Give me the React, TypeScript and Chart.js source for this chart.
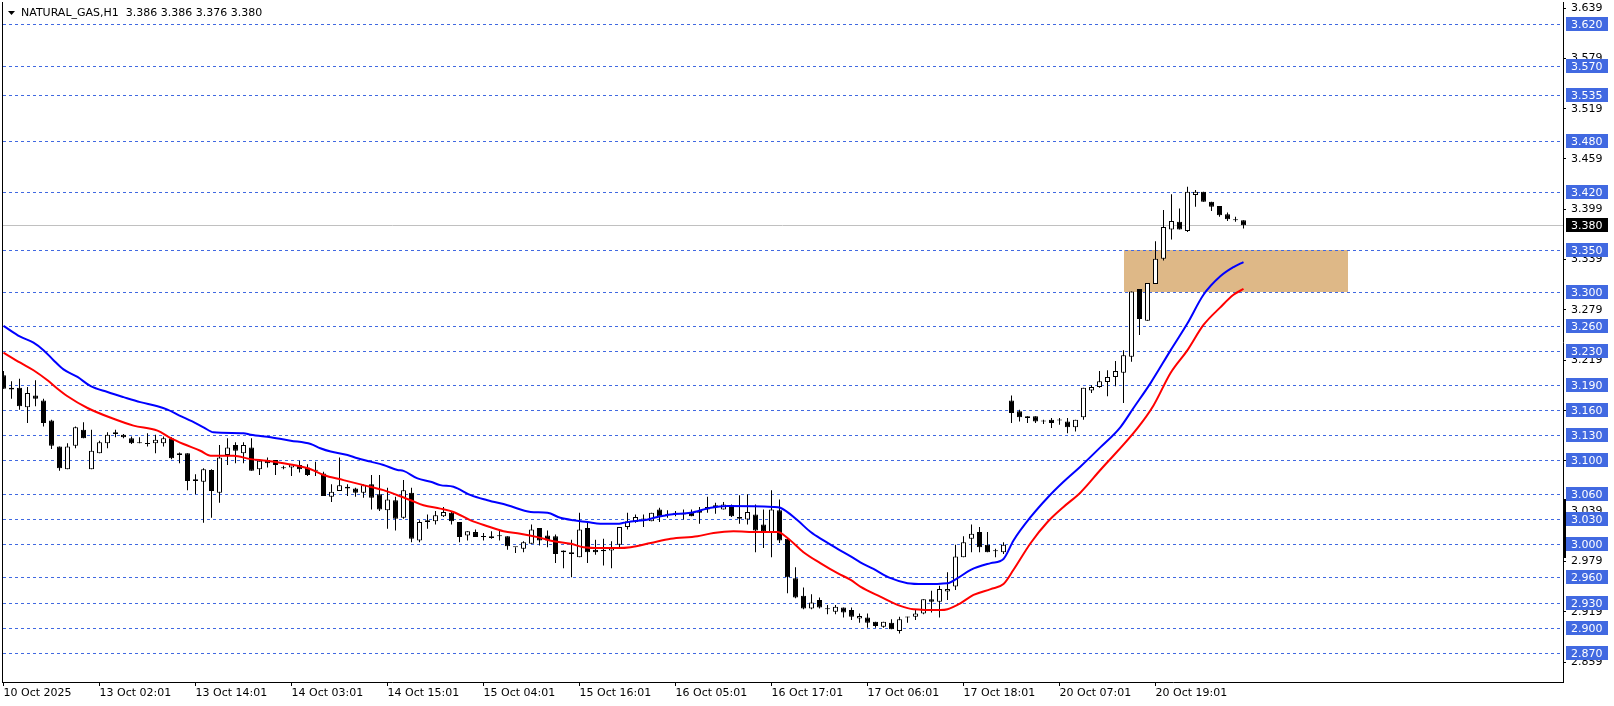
import React, { useEffect, useRef } from "react";
import { Chart, registerables } from "chart.js";

Chart.register(...registerables);

// ---- Candles (H1 bars, index 0 = left-most bar) ----
const opens = [
  3.201, 3.186, 3.186, 3.163, 3.177, 3.171, 3.147, 3.116, 3.089, 3.117,
  3.136, 3.089, 3.108, 3.120, 3.133, 3.130, 3.126, 3.121, 3.120, 3.120,
  3.120, 3.126, 3.106, 3.108, 3.077, 3.074, 3.088, 3.061, 3.106, 3.118,
  3.108, 3.115, 3.089, 3.100, 3.100, 3.091, 3.091, 3.094, 3.091, 3.087,
  3.084, 3.056, 3.063, 3.068, 3.066, 3.061, 3.071, 3.059, 3.040, 3.052,
  3.031, 3.061, 3.004, 3.028, 3.027, 3.033, 3.037, 3.026, 3.010, 3.014,
  3.008, 3.009, 3.009, 3.009, 2.996, 2.994, 3.000, 3.019, 3.010, 3.009,
  2.992, 2.990, 2.984, 3.019, 2.993, 2.991, 2.992, 2.999, 3.020, 3.026,
  3.029, 3.027, 3.041, 3.034, 3.036, 3.035, 3.037, 3.039, 3.044, 3.046,
  3.041, 3.046, 3.032, 3.029, 3.035, 3.023, 3.014, 3.040, 3.006, 2.959,
  2.938, 2.923, 2.933, 2.922, 2.919, 2.924, 2.921, 2.911, 2.912, 2.907,
  2.901, 2.906, 2.896, 2.912, 2.913, 2.917, 2.934, 2.931, 2.943, 2.949,
  2.984, 3.006, 3.014, 2.999, 2.991, 2.990, 3.171, 3.158, 3.152, 3.152,
  3.146, 3.148, 3.148, 3.146, 3.139, 3.151, 3.183, 3.187, 3.193, 3.199,
  3.204, 3.223, 3.304, 3.266, 3.310, 3.340, 3.375, 3.384, 3.373, 3.416,
  3.420, 3.408, 3.403, 3.393, 3.387, 3.386,
];
const highs = [
  3.206, 3.194, 3.197, 3.187, 3.195, 3.173, 3.148, 3.116, 3.120, 3.140,
  3.145, 3.136, 3.123, 3.133, 3.136, 3.131, 3.128, 3.127, 3.132, 3.130,
  3.128, 3.127, 3.109, 3.108, 3.083, 3.090, 3.089, 3.118, 3.126, 3.121,
  3.121, 3.126, 3.099, 3.103, 3.100, 3.093, 3.095, 3.099, 3.095, 3.098,
  3.086, 3.071, 3.103, 3.071, 3.067, 3.071, 3.082, 3.082, 3.067, 3.056,
  3.076, 3.067, 3.028, 3.035, 3.039, 3.044, 3.038, 3.026, 3.015, 3.017,
  3.013, 3.015, 3.016, 3.009, 2.996, 3.003, 3.023, 3.019, 3.016, 3.011,
  2.992, 3.005, 3.037, 3.025, 3.005, 3.006, 3.003, 3.020, 3.037, 3.035,
  3.035, 3.037, 3.043, 3.040, 3.039, 3.041, 3.041, 3.044, 3.056, 3.049,
  3.050, 3.047, 3.058, 3.059, 3.047, 3.041, 3.064, 3.053, 3.006, 2.972,
  2.948, 2.940, 2.936, 2.927, 2.927, 2.924, 2.924, 2.917, 2.917, 2.907,
  2.907, 2.910, 2.913, 2.913, 2.922, 2.934, 2.944, 2.950, 2.966, 2.999,
  3.009, 3.023, 3.020, 3.014, 2.994, 3.002, 3.177, 3.160, 3.152, 3.152,
  3.148, 3.150, 3.150, 3.150, 3.148, 3.186, 3.189, 3.206, 3.207, 3.218,
  3.231, 3.301, 3.304, 3.311, 3.361, 3.398, 3.417, 3.400, 3.426, 3.422,
  3.420, 3.408, 3.403, 3.395, 3.390, 3.386,
];
const lows = [
  3.185, 3.173, 3.160, 3.144, 3.164, 3.140, 3.113, 3.087, 3.089, 3.114,
  3.126, 3.089, 3.108, 3.114, 3.127, 3.126, 3.119, 3.120, 3.116, 3.108,
  3.116, 3.101, 3.096, 3.064, 3.059, 3.025, 3.031, 3.049, 3.094, 3.096,
  3.096, 3.087, 3.082, 3.091, 3.082, 3.089, 3.081, 3.085, 3.081, 3.081,
  3.057, 3.050, 3.063, 3.057, 3.056, 3.055, 3.041, 3.039, 3.018, 3.016,
  3.030, 3.002, 3.002, 3.018, 3.023, 3.032, 3.023, 3.002, 3.004, 3.008,
  3.004, 3.006, 3.004, 2.993, 2.989, 2.990, 3.000, 2.998, 2.996, 2.977,
  2.971, 2.960, 2.984, 2.977, 2.987, 2.974, 2.971, 2.996, 3.017, 3.025,
  3.020, 3.027, 3.026, 3.031, 3.033, 3.029, 3.033, 3.024, 3.037, 3.036,
  3.041, 3.032, 3.024, 3.023, 2.990, 2.995, 2.984, 3.001, 2.941, 2.935,
  2.922, 2.922, 2.923, 2.916, 2.916, 2.912, 2.909, 2.906, 2.900, 2.900,
  2.900, 2.898, 2.893, 2.906, 2.909, 2.916, 2.918, 2.912, 2.933, 2.945,
  2.984, 2.990, 2.990, 2.990, 2.984, 2.988, 3.144, 3.146, 3.144, 3.144,
  3.143, 3.138, 3.142, 3.132, 3.134, 3.148, 3.180, 3.186, 3.176, 3.188,
  3.168, 3.217, 3.249, 3.266, 3.310, 3.338, 3.363, 3.375, 3.372, 3.402,
  3.408, 3.397, 3.390, 3.385, 3.384, 3.376,
];
const closes = [
  3.185, 3.184, 3.164, 3.180, 3.173, 3.144, 3.117, 3.090, 3.116, 3.139,
  3.126, 3.111, 3.121, 3.130, 3.131, 3.127, 3.120, 3.120, 3.119, 3.124,
  3.126, 3.102, 3.108, 3.075, 3.075, 3.089, 3.063, 3.103, 3.115, 3.111,
  3.118, 3.087, 3.099, 3.096, 3.094, 3.090, 3.095, 3.089, 3.082, 3.087,
  3.057, 3.062, 3.070, 3.066, 3.061, 3.070, 3.055, 3.041, 3.053, 3.030,
  3.064, 3.006, 3.026, 3.026, 3.034, 3.038, 3.027, 3.008, 3.015, 3.008,
  3.008, 3.007, 3.009, 2.997, 2.996, 3.002, 3.017, 3.004, 3.004, 2.988,
  2.990, 2.988, 3.017, 2.990, 2.990, 2.993, 2.996, 3.020, 3.027, 3.032,
  3.030, 3.037, 3.033, 3.034, 3.036, 3.035, 3.033, 3.037, 3.041, 3.044,
  3.047, 3.033, 3.030, 3.038, 3.016, 3.015, 3.041, 3.004, 2.960, 2.936,
  2.923, 2.930, 2.924, 2.922, 2.925, 2.918, 2.913, 2.914, 2.906, 2.902,
  2.907, 2.898, 2.910, 2.912, 2.917, 2.934, 2.931, 2.946, 2.946, 2.985,
  3.002, 3.012, 2.996, 2.990, 2.991, 2.999, 3.156, 3.151, 3.150, 3.146,
  3.146, 3.144, 3.147, 3.139, 3.148, 3.186, 3.187, 3.194, 3.199, 3.206,
  3.225, 3.301, 3.268, 3.311, 3.340, 3.378, 3.385, 3.375, 3.420, 3.420,
  3.408, 3.402, 3.392, 3.387, 3.386, 3.380,
];

// ---- Indicator lines (bar position, value) ----
const blueX = [0, 2.1, 3.75, 5, 6.25, 7.5, 9.25, 10.9, 13, 15, 17.1, 19.25, 20.5, 22, 23.6, 25, 26.25, 30, 30.9, 33.4, 35.9, 38.4, 39.6, 40.9, 43, 44.25, 45.9, 47.5, 49.25, 50, 51.75, 53.4, 54.6, 56.25, 58.4, 60.5, 63, 65.9, 68, 69.6, 71.25, 73, 74.6, 76.75, 77.5, 78.75, 80, 81.75, 83.4, 85.9, 88.4, 90.5, 96.25, 97.1, 99.25, 100.9, 102.5, 104.25, 105.9, 107.1, 108.75, 110.9, 113, 115, 118, 119.25, 120.9, 123.4, 125, 126.25, 128.4, 130.5, 132.5, 134.6, 137.1, 139.6, 141.25, 143.4, 145.9, 148, 150, 152.1, 153.75, 155];
const blueY = [3.260, 3.247, 3.240, 3.231, 3.219, 3.208, 3.199, 3.188, 3.181, 3.175, 3.169, 3.164, 3.160, 3.153, 3.146, 3.139, 3.133, 3.132, 3.130, 3.127, 3.123, 3.119, 3.114, 3.110, 3.106, 3.102, 3.098, 3.094, 3.088, 3.087, 3.078, 3.074, 3.070, 3.068, 3.058, 3.052, 3.046, 3.038, 3.037, 3.031, 3.028, 3.026, 3.024, 3.024, 3.025, 3.027, 3.028, 3.032, 3.035, 3.037, 3.043, 3.045, 3.044, 3.043, 3.028, 3.014, 3.004, 2.994, 2.985, 2.978, 2.970, 2.959, 2.953, 2.952, 2.953, 2.959, 2.969, 2.977, 2.982, 3.004, 3.032, 3.055, 3.074, 3.092, 3.115, 3.139, 3.162, 3.192, 3.231, 3.263, 3.297, 3.319, 3.330, 3.336];
const redX = [0, 2.1, 3.75, 5.5, 6.75, 8, 10.5, 13.5, 16.25, 19.25, 20.9, 22.5, 24.6, 25.9, 28.75, 30.9, 32.9, 35, 36.75, 38.4, 40, 42.5, 45, 47.5, 49.25, 50.9, 52.5, 54.6, 56.25, 58.4, 60.5, 62.5, 64.6, 66.75, 68.75, 70.9, 72.5, 74.6, 76.75, 78.4, 80.9, 83.4, 86.75, 88.75, 91.25, 94.25, 96.75, 98, 100, 102.1, 104.25, 105.9, 107.1, 109.6, 112.1, 113.75, 117.1, 118, 119.6, 121.25, 123.4, 125, 126.25, 128.4, 130.5, 132.5, 134.6, 137.1, 141.75, 143.75, 145.9, 148, 150, 152.1, 153.75, 155];
const redY = [3.228, 3.216, 3.207, 3.195, 3.185, 3.176, 3.162, 3.150, 3.141, 3.135, 3.126, 3.119, 3.111, 3.105, 3.105, 3.101, 3.099, 3.096, 3.093, 3.089, 3.082, 3.076, 3.070, 3.064, 3.058, 3.052, 3.046, 3.042, 3.038, 3.028, 3.021, 3.015, 3.012, 3.008, 3.003, 3.000, 2.996, 2.995, 2.995, 2.996, 3.001, 3.006, 3.009, 3.013, 3.015, 3.014, 3.014, 3.007, 2.990, 2.977, 2.965, 2.957, 2.949, 2.937, 2.926, 2.922, 2.921, 2.922, 2.929, 2.939, 2.946, 2.952, 2.969, 3.001, 3.026, 3.044, 3.061, 3.088, 3.138, 3.165, 3.204, 3.231, 3.261, 3.282, 3.297, 3.304];

// ---- Levels, zone, axis ticks, time labels ----
const levels = [3.620, 3.570, 3.535, 3.480, 3.420, 3.350, 3.300, 3.260, 3.230, 3.190, 3.160, 3.130, 3.100, 3.060, 3.030, 3.000, 2.960, 2.930, 2.900, 2.870];
const currentPrice = 3.380;
const zoneBars = [140, 168];
const zonePrices = [3.300, 3.350];
const axisMarker = [2.983, 3.053];
const priceTicks = [3.639, 3.579, 3.519, 3.459, 3.399, 3.339, 3.279, 3.219, 3.159, 3.099, 3.039, 2.979, 2.919, 2.859];
const timeLabels = ["10 Oct 2025", "13 Oct 02:01", "13 Oct 14:01", "14 Oct 03:01", "14 Oct 15:01", "15 Oct 04:01", "15 Oct 16:01", "16 Oct 05:01", "16 Oct 17:01", "17 Oct 06:01", "17 Oct 18:01", "20 Oct 07:01", "20 Oct 19:01"];
const timeLabelBars = [0, 12, 24, 36, 48, 60, 72, 84, 96, 108, 120, 132, 144];
const titleText = "NATURAL_GAS,H1  3.386 3.386 3.376 3.380";

const FONT = '"DejaVu Sans", sans-serif';

const overlayPlugin = {
  id: "mtOverlay",
  beforeDatasetsDraw(chart: any) {
    const { ctx, chartArea: a, scales } = chart;
    const x = scales.x;
    const y = scales.y;
    ctx.save();
    // zone
    const zx0 = x.getPixelForValue(zoneBars[0]);
    const zx1 = x.getPixelForValue(zoneBars[1]);
    const zyTop = y.getPixelForValue(zonePrices[1]);
    const zyBot = y.getPixelForValue(zonePrices[0]);
    ctx.fillStyle = "#DEB887";
    ctx.fillRect(Math.round(zx0), Math.round(zyTop), Math.round(zx1 - zx0), Math.round(zyBot - zyTop));
    // current price line
    ctx.strokeStyle = "#C0C0C0";
    ctx.lineWidth = 1;
    const cp = Math.round(y.getPixelForValue(currentPrice)) + 0.5;
    ctx.beginPath();
    ctx.moveTo(a.left, cp);
    ctx.lineTo(a.right, cp);
    ctx.stroke();
    // levels
    ctx.strokeStyle = "#4169E1";
    ctx.setLineDash([3, 3]);
    for (const lv of levels) {
      const py = Math.round(y.getPixelForValue(lv)) + 0.5;
      ctx.beginPath();
      ctx.moveTo(a.left + 1, py);
      ctx.lineTo(a.right, py);
      ctx.stroke();
    }
    ctx.setLineDash([]);
    ctx.restore();
  },
  afterDraw(chart: any) {
    const { ctx, chartArea: a, scales } = chart;
    const y = scales.y;
    ctx.save();
    // left frame line
    ctx.fillStyle = "#000";
    ctx.fillRect(a.left, a.top, 1, a.bottom - a.top + 1);
    // axis marker
    const m0 = y.getPixelForValue(axisMarker[1]);
    const m1 = y.getPixelForValue(axisMarker[0]);
    ctx.fillRect(a.right, Math.round(m0), 3, Math.round(m1 - m0));
    // level labels
    ctx.font = "11px " + FONT;
    ctx.textBaseline = "middle";
    ctx.textAlign = "left";
    const drawLabel = (v: number, bg: string) => {
      const py = Math.round(y.getPixelForValue(v));
      ctx.fillStyle = bg;
      ctx.fillRect(a.right + 3, py - 7, 42, 14);
      ctx.fillStyle = "#FFFFFF";
      ctx.fillText(v.toFixed(3), a.right + 8, py + 1);
    };
    for (const lv of levels) drawLabel(lv, "#4169E1");
    drawLabel(currentPrice, "#000000");
    // title
    ctx.fillStyle = "#000";
    ctx.beginPath();
    ctx.moveTo(8, 11);
    ctx.lineTo(15, 11);
    ctx.lineTo(11.5, 15);
    ctx.closePath();
    ctx.fill();
    ctx.fillText(titleText, 21, 13);
    ctx.restore();
  },
};

export default function App() {
  const ref = useRef<HTMLCanvasElement | null>(null);
  useEffect(() => {
    document.body.style.margin = "0";
    const canvas = ref.current;
    if (!canvas) return;
    const idx = opens.map((_, i) => i);
    const wickData = idx.map((i) => ({ x: i, y: [lows[i], highs[i]] }));
    const bodyData = idx.map((i) => ({ x: i, y: [opens[i], closes[i]] }));
    const bodyColors = idx.map((i) => (closes[i] > opens[i] ? "#FFFFFF" : "#000000"));
    const chart = new Chart(canvas, {
      type: "bar",
      data: {
        datasets: [
          {
            type: "line",
            label: "upper",
            data: blueX.map((v, k) => ({ x: v, y: blueY[k] })),
            borderColor: "#0000FF",
            borderWidth: 2,
            pointRadius: 0,
            fill: false,
            cubicInterpolationMode: "monotone",
            order: 0,
          } as any,
          {
            type: "line",
            label: "lower",
            data: redX.map((v, k) => ({ x: v, y: redY[k] })),
            borderColor: "#FF0000",
            borderWidth: 2,
            pointRadius: 0,
            fill: false,
            cubicInterpolationMode: "monotone",
            order: 1,
          } as any,
          {
            type: "bar",
            label: "body",
            data: bodyData as any,
            backgroundColor: bodyColors,
            borderColor: "#000000",
            borderWidth: 1,
            borderSkipped: false,
            barThickness: 5,
            minBarLength: 1,
            grouped: false,
            inflateAmount: 0,
            order: 2,
          } as any,
          {
            type: "bar",
            label: "wick",
            data: wickData as any,
            backgroundColor: "#000000",
            borderWidth: 0,
            barThickness: 1,
            minBarLength: 1,
            grouped: false,
            inflateAmount: 0,
            order: 3,
          } as any,
        ],
      },
      options: {
        animation: false,
        responsive: false,
        devicePixelRatio: 1,
        events: [],
        layout: { padding: { left: 2, top: 2, right: 0, bottom: 0 } },
        plugins: { legend: { display: false }, tooltip: { enabled: false }, title: { display: false } },
        scales: {
          x: {
            type: "linear",
            position: "bottom",
            min: -0.1875,
            max: 194.9375,
            offset: false,
            grid: { display: true, drawOnChartArea: false, drawTicks: true, tickLength: 4, color: "#000", offset: false },
            border: { display: true, color: "#000", width: 1 },
            ticks: {
              autoSkip: false,
              maxRotation: 0,
              minRotation: 0,
              align: "start",
              padding: 1,
              color: "#000",
              font: { family: FONT, size: 11 },
              callback: (value: any) => {
                const k = timeLabelBars.indexOf(Number(value));
                return k >= 0 ? timeLabels[k] : "";
              },
            },
            afterBuildTicks: (s: any) => {
              s.ticks = timeLabelBars.map((v) => ({ value: v }));
            },
            afterFit: (s: any) => {
              s.height = 24;
              s.paddingLeft = 0;
              s.paddingRight = 0;
            },
          },
          y: {
            type: "linear",
            position: "right",
            min: 2.8352,
            max: 3.6462,
            grid: { display: true, drawOnChartArea: false, drawTicks: true, tickLength: 3, color: "#000" },
            border: { display: true, color: "#000", width: 1 },
            ticks: {
              padding: 5,
              color: "#000",
              font: { family: FONT, size: 11 },
              callback: (value: any) => Number(value).toFixed(3),
            },
            afterBuildTicks: (s: any) => {
              s.ticks = priceTicks.map((v) => ({ value: v }));
            },
            afterFit: (s: any) => {
              s.width = 51;
              s.paddingTop = 0;
              s.paddingBottom = 0;
            },
          },
        },
      } as any,
      plugins: [overlayPlugin],
    });
    return () => chart.destroy();
  }, []);
  return <canvas ref={ref} width={1614} height={706} style={{ display: "block" }} />;
}
